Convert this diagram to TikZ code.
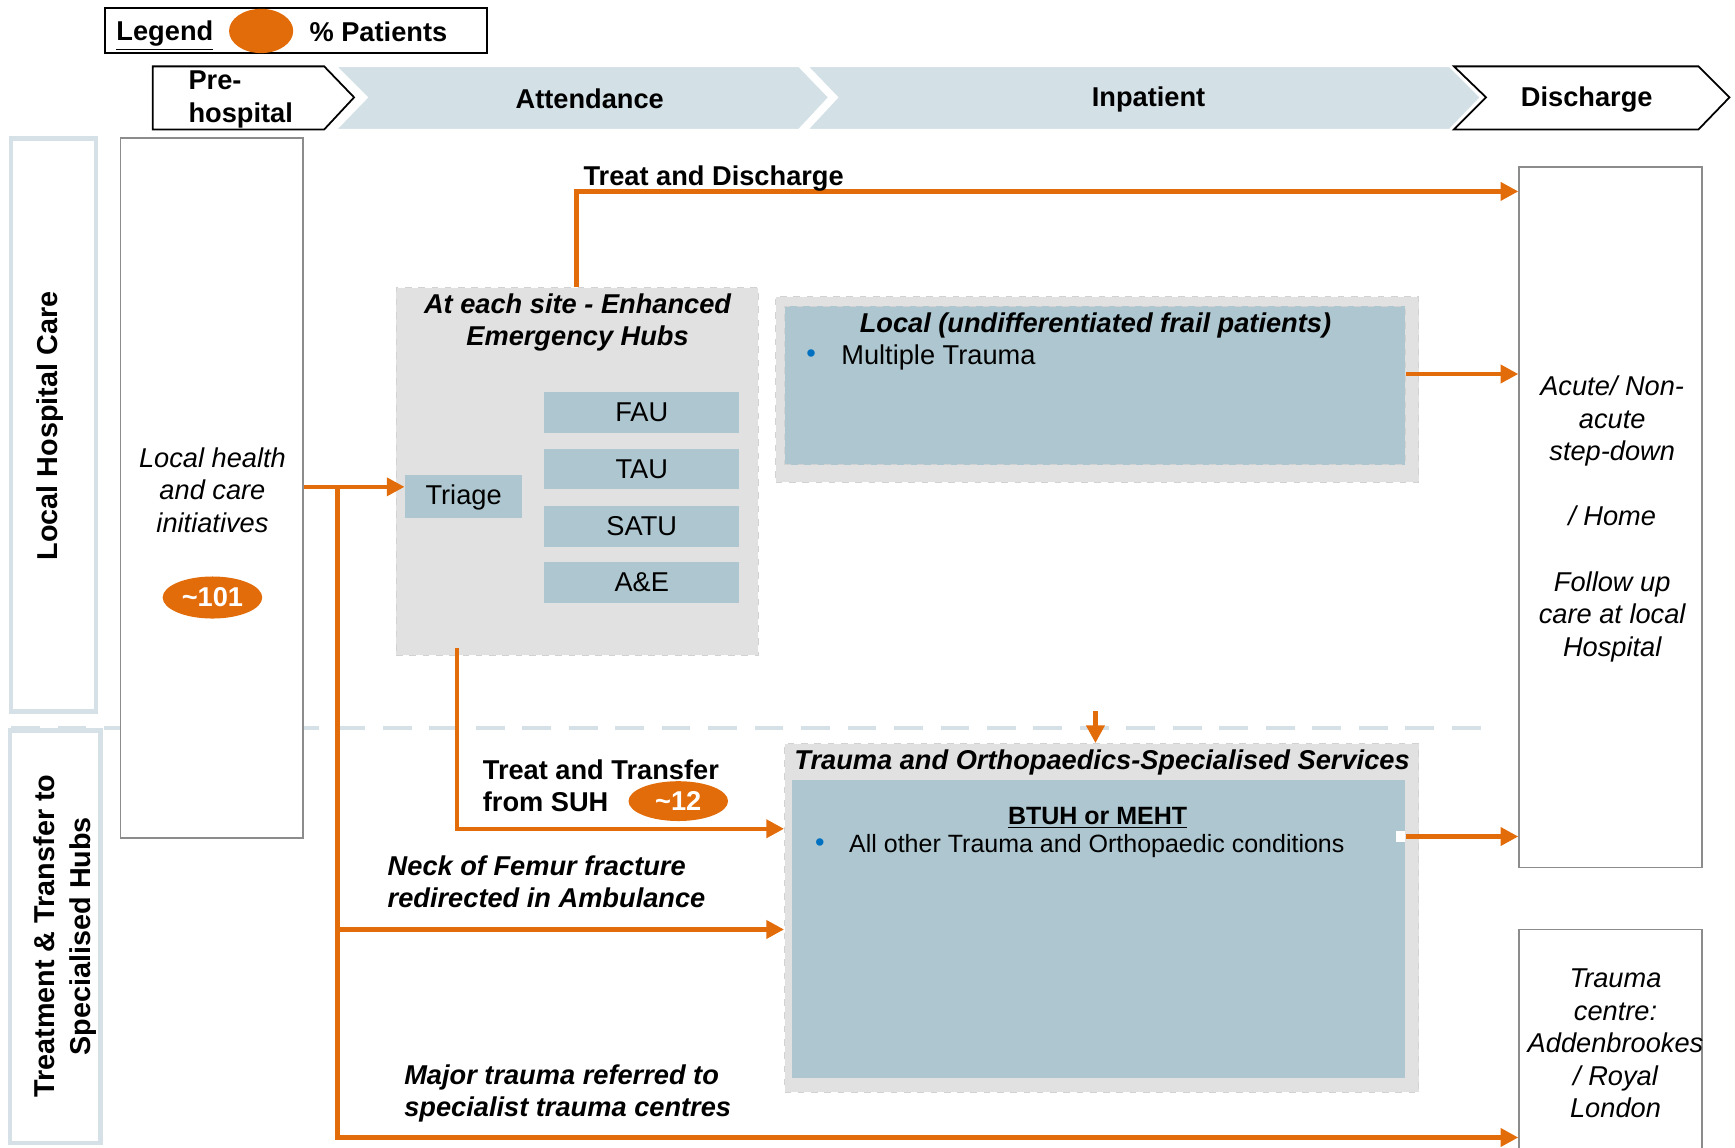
\documentclass[tikz,border=0pt]{standalone}
\usepackage{fontspec}
\setmainfont{Liberation Sans}
\usetikzlibrary{arrows.meta,fit,shapes.geometric}

\definecolor{flow}{HTML}{E36C0A}
\definecolor{phase}{HTML}{D3E0E6}
\definecolor{unit}{HTML}{ADC6CF}
\definecolor{panel}{HTML}{E1E1E1}
\definecolor{paneledge}{HTML}{D2D2D2}
\definecolor{frame}{HTML}{8C8C8C}
\definecolor{lane}{HTML}{D5E1E7}
\definecolor{dot}{HTML}{0070C0}

\tikzset{
  every node/.style={inner sep=0pt, font=\fontsize{12.3}{14.7}\selectfont},
  txt/.style={font=\fontsize{12.3}{14.7}\selectfont},
  bold/.style={font=\bfseries\fontsize{12.3}{14.7}\selectfont},
  boldit/.style={font=\bfseries\itshape\fontsize{12.3}{14.7}\selectfont},
  itx/.style={font=\itshape\fontsize{12.3}{14.7}\selectfont},
  lanetitle/.style={rotate=90, align=center, font=\bfseries\fontsize{13}{16.5}\selectfont},
  lanebox/.style={draw=lane, line width=2pt},
  framebox/.style={draw=frame, line width=0.8pt, fill=white},
  panelbox/.style={fill=panel, draw=paneledge, dashed, line width=0.4pt},
  unitbox/.style={fill=unit},
  share/.style={ellipse, fill=flow, text=white, font=\bfseries\fontsize{12.3}{14.7}\selectfont},
  flowline/.style={draw=flow, line width=2pt, -{Triangle[length=8pt,width=8pt]}},
  phasearrow/.style={fill=phase, draw=white, line width=0.6pt},
  phaseopen/.style={fill=white, draw=black, line width=0.8pt},
}

\begin{document}
\begin{tikzpicture}[x=0.5pt,y=-0.5pt]
\useasboundingbox (0,0) rectangle (1568,1037);
\clip (0,0) rectangle (1568,1037);

% ---- legend ----
\node[draw=black, line width=0.8pt, fit={(95,7) (440,48)}] (legend) {};
\node[bold, anchor=base] (legendtitle) at (149,37) {\underline{Legend}};
\node[share, minimum width=29pt, minimum height=20pt] (legendshare) at (236,28) {};
\node[bold] (legendtext) at (342,29) {\% Patients};

% ---- phase chevrons ----
\path[phaseopen] (138,60) -- (293,60) -- (320,88) -- (293,117) -- (138,117) -- cycle;
\path[phasearrow] (304,60) -- (722,60) -- (749,88) -- (722,117) -- (304,117) -- (332,88) -- cycle;
\path[phasearrow] (730,60) -- (1310,60) -- (1338,88) -- (1310,117) -- (730,117) -- (757,88) -- cycle;
\path[phaseopen] (1314,60) -- (1535,60) -- (1563,88) -- (1535,117) -- (1314,117) -- (1343,88) -- cycle;
\node[bold, align=left, anchor=west] (prehospital) at (170,90) {Pre-\\hospital};
\node[bold] (attendance) at (533,89.5) {Attendance};
\node[bold] (inpatient) at (1038,89.5) {Inpatient};
\node[bold] (discharge) at (1434,89.5) {Discharge};

% ---- swim lanes ----
\node[lanebox, fit={(10,125) (87,643)}] (lanelocal) {};
\node[lanetitle] (lanelocaltitle) at (45,385) {Local Hospital Care};
\node[lanebox, fit={(9,660) (91,1033)}] (lanespecial) {};
\node[lanetitle] (lanespecialtitle) at (59,846) {Treatment \& Transfer to\\Specialised Hubs};
\draw[draw=lane, line width=2pt, dash pattern=on 13pt off 8pt] (10,658) -- (1343,658);

% ---- pre-hospital ----
\node[framebox, fit={(109,125) (274,757)}] (lhc) {};
\node[itx, align=center] (lhctext) at (192,443) {Local health\\and care\\initiatives};
\node[share, minimum width=45pt, minimum height=19pt] (share101) at (192,540) {\textasciitilde101};

% ---- enhanced emergency hubs ----
\node[panelbox, fit={(358,260) (685,592)}] (hub) {};
\node[boldit, align=center] (hubtitle) at (522,291.5) {At each site - Enhanced\\Emergency Hubs};
\node[unitbox, fit={(366,429) (472,468)}] (triage) {};
\node[txt] at ([yshift=-0.6pt]triage.center) {Triage};
\node[unitbox, fit={(492,354) (668,391)}] (fau) {};
\node[txt] at (fau.center) {FAU};
\node[unitbox, fit={(492,406) (668,442)}] (tau) {};
\node[txt] at (tau.center) {TAU};
\node[unitbox, fit={(492,457) (668,494)}] (satu) {};
\node[txt] at (satu.center) {SATU};
\node[unitbox, fit={(492,508) (668,545)}] (ae) {};
\node[txt] at (ae.center) {A\&E};

% ---- local inpatient ----
\node[panelbox, fit={(701,268) (1282,436)}] (frailpanel) {};
\node[unitbox, draw=paneledge, dashed, line width=0.4pt, fit={(709,277) (1270,420)}] (frail) {};
\node[boldit] (frailtitle) at (990,294) {Local (undifferentiated frail patients)};
\node[txt, text=dot] (frailbullet) at (733,322) {•};
\node[txt, anchor=west] (frailitem) at (760,323) {Multiple Trauma};

% ---- specialised services ----
\node[panelbox, fit={(709,672) (1282,987)}] (traumapanel) {};
\node[unitbox, fit={(716,705) (1270,974)}] (traumaunit) {};
\node[boldit] (traumatitle) at (996,689) {Trauma and Orthopaedics-Specialised Services};
\node[anchor=base, font=\bfseries\fontsize{11.3}{14}\selectfont] (traumasite) at (992,745) {\underline{BTUH or MEHT}};
\node[txt, text=dot] (traumabullet) at (741,764) {•};
\node[anchor=west, font=\fontsize{11.3}{14}\selectfont] (traumaitem) at (767,765) {All other Trauma and Orthopaedic conditions};

% ---- discharge destinations ----
\node[framebox, fit={(1373,151) (1538,784)}] (acute) {};
\node[itx, align=center] (acutetext) at (1457,469)
  {Acute/ Non-\\acute\\step-down\\[14.7pt]/ Home\\[14.7pt]Follow up\\care at local\\Hospital};
\node[framebox, fit={(1373,840) (1538,1060)}] (tcentre) {};
\node[itx, align=center] (tcentretext) at (1460,943)
  {Trauma\\centre:\\Addenbrookes\\/ Royal\\London};

% ---- patient flows ----
\coordinate (split) at (305,440);
\coordinate (femurrun) at (0,840);
\coordinate (majorrun) at (0,1028);
\coordinate (dischargerun) at (521,173);
\coordinate (transferrun) at (413,749);
\coordinate (frailrun) at (0,338);
\coordinate (traumarun) at (0,756);
\coordinate (dropin) at (990,643);

\draw[flowline] (lhc.east |- split) -- (triage.west |- split);
\draw[flowline] (split) |- (tcentre.west |- majorrun);
\draw[flowline] (split |- femurrun) -- (traumapanel.west |- femurrun);
\draw[flowline] (hub.north -| dischargerun) |- (acute.west |- dischargerun);
\draw[flowline] ([yshift=3.5pt]hub.south -| transferrun) |- (traumapanel.west |- transferrun);
\draw[flowline] (frail.east |- frailrun) -- (acute.west |- frailrun);
\fill[white] (1262,751) rectangle (1270,761);
\draw[flowline] (traumaunit.east |- traumarun) -- (acute.west |- traumarun);
\draw[flowline] (dropin) -- (traumapanel.north -| dropin);

% ---- flow labels ----
\node[bold, anchor=west] (dischargelabel) at (527,161) {Treat and Discharge};
\node[bold, align=left, anchor=west] (transferlabel) at (436,710) {Treat and Transfer\\from SUH};
\node[share, minimum width=45pt, minimum height=18pt] (share12) at (613,724) {\textasciitilde12};
\node[boldit, align=left, anchor=west] (femurlabel) at (350,797) {Neck of Femur fracture\\redirected in Ambulance};
\node[boldit, align=left, anchor=west] (majorlabel) at (365,988) {Major trauma referred to\\specialist trauma centres};

\end{tikzpicture}
\end{document}
